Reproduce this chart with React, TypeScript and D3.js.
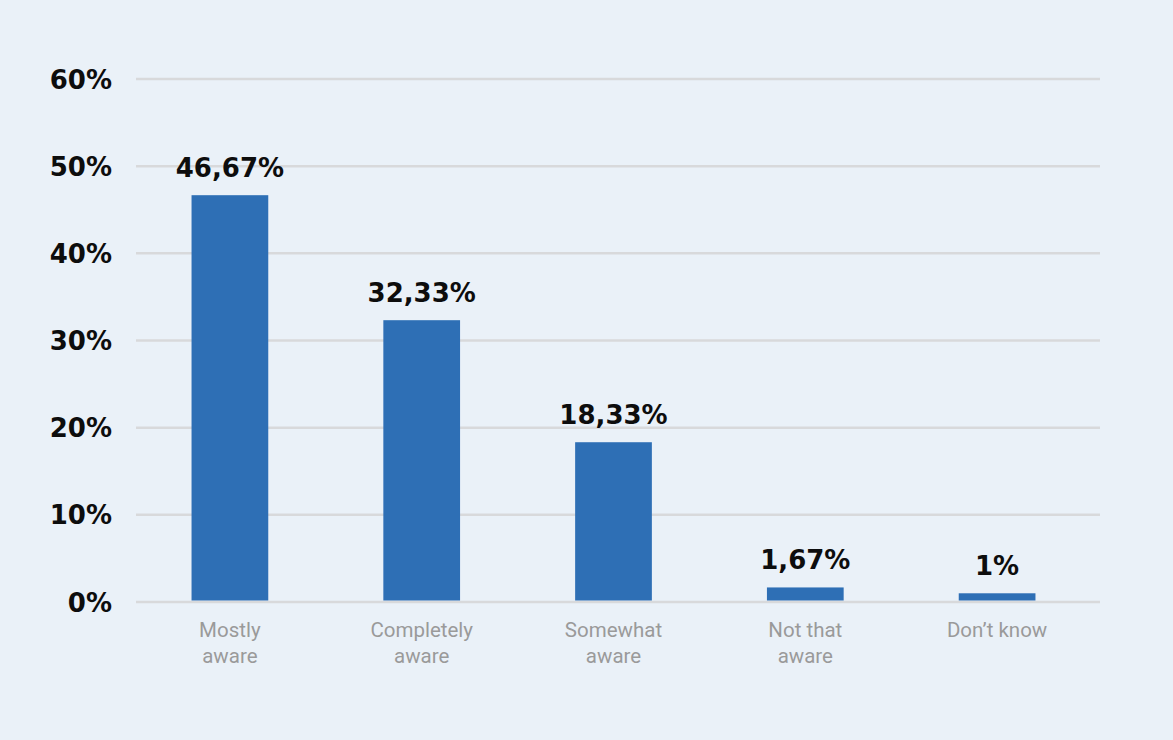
import React from "react";
import * as d3 from "d3";

const categories: string[][] = [
  ["Mostly", "aware"],
  ["Completely", "aware"],
  ["Somewhat", "aware"],
  ["Not that", "aware"],
  ["Don’t know"],
];
const values: number[] = [46.67, 32.33, 18.33, 1.67, 1];
const valueLabels: string[] = ["46,67%", "32,33%", "18,33%", "1,67%", "1%"];
const yTicks: number[] = [0, 10, 20, 30, 40, 50, 60];

const W = 1173;
const H = 740;

export default function App() {
  const x = d3
    .scaleBand<number>()
    .domain(values.map((_, i) => i))
    .range([134, 1093])
    .paddingInner(0.6)
    .paddingOuter(0.3);
  const y = d3.scaleLinear().domain([0, 60]).range([602, 79]);
  const bold = "'DejaVu Sans', sans-serif";
  const light = "Roboto, sans-serif";

  return (
    <div style={{ position: "absolute", left: 0, top: 0 }}>
      <svg width={W} height={H} style={{ display: "block" }}>
        <rect x={0} y={0} width={W} height={H} fill="#EAF1F8" />
        {yTicks.map((t) => (
          <g key={t}>
            <line x1={136} x2={1100} y1={y(t)} y2={y(t)} stroke="#D8D9DB" strokeWidth={2.5} />
            <text
              x={112}
              y={y(t) + 9.5}
              textAnchor="end"
              fontFamily={bold}
              fontWeight={700}
              fontSize={26}
              fill="#0d0d0d"
            >
              {t}%
            </text>
          </g>
        ))}
        {values.map((v, i) => {
          const bx = x(i)!;
          const bw = x.bandwidth();
          const cx = bx + bw / 2;
          return (
            <g key={i}>
              <rect x={bx} y={y(v)} width={bw} height={y(0) - y(v) - 1.5} fill="#2E6FB5" />
              <text
                x={cx}
                y={y(v) - 18}
                textAnchor="middle"
                fontFamily={bold}
                fontWeight={700}
                fontSize={26}
                fill="#0d0d0d"
              >
                {valueLabels[i]}
              </text>
              {categories[i].map((line, j) => (
                <text
                  key={j}
                  x={cx}
                  y={637 + j * 26}
                  textAnchor="middle"
                  fontFamily={light}
                  fontSize={20.5}
                  fill="#9A9A9A"
                >
                  {line}
                </text>
              ))}
            </g>
          );
        })}
      </svg>
    </div>
  );
}
